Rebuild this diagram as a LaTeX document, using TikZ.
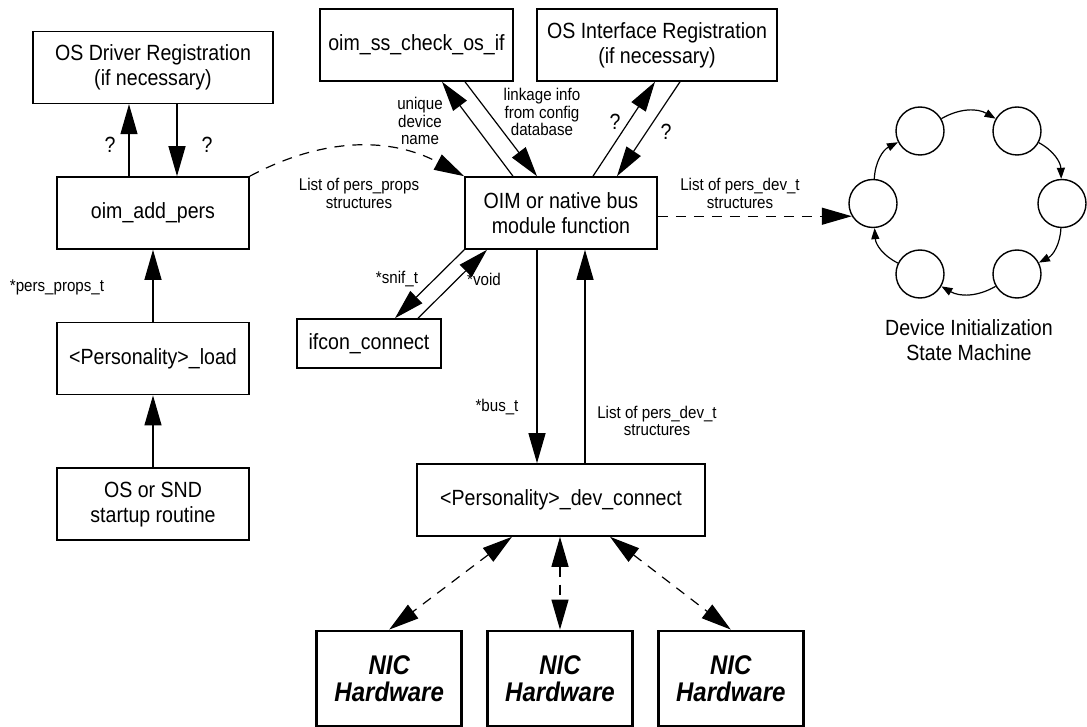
\documentclass[tikz,border=0pt]{standalone}
\usepackage{fontspec}
\setmainfont{Liberation Sans}[FakeStretch=0.89]
\usetikzlibrary{positioning,arrows.meta}

\begin{document}
\begin{tikzpicture}[
x=0.5pt,y=-0.5pt,
node distance=36pt,
box/.style={
    rectangle,
    draw,
    line width=0.8pt,
    minimum width=96pt,
    minimum height=36pt,
    inner sep=0pt,
    align=center,
    font=\fontsize{11}{12.5}\selectfont
},
nicbox/.style={
    box,
    line width=1.4pt,
    minimum width=72.5pt,
    minimum height=47.5pt,
    font=\fontsize{13.5}{13.5}\selectfont\bfseries\itshape
},
stnode/.style={circle,draw,line width=0.7pt,minimum size=24pt,inner sep=0pt},
lbl/.style={align=center,inner sep=0pt,font=\fontsize{8.5}{8.8}\selectfont},
qlbl/.style={align=center,inner sep=0pt,font=\fontsize{11}{12.5}\selectfont},
arrow/.style={-{Triangle[length=15pt,width=8.5pt]},line width=0.6pt},
dasharrow/.style={arrow,dash pattern=on 5pt off 4pt},
biarrow/.style={{Triangle[length=15pt,width=8.5pt]}-{Triangle[length=15pt,width=8.5pt]},line width=0.6pt,dash pattern=on 5pt off 4pt},
ringarrow/.style={-{Triangle[length=5.5pt,width=4pt]},line width=0.6pt}
]
\useasboundingbox (0,0) rectangle (1087,727);

\node[box] (addpers) at (153,213) {oim\_add\_pers};
\node[box,minimum width=120pt,above=of addpers] (drvreg) {OS Driver Registration\\(if necessary)};
\node[box,below=of addpers] (load) {<Personality>\_load};
\node[box,below=of load] (startup) {OS or SND\\startup routine};

\node[box,minimum width=96.5pt] (chkos) at (416.5,45) {oim\_ss\_check\_os\_if};
\node[box,minimum width=120pt] (osireg) at (657,45) {OS Interface Registration\\(if necessary)};
\node[box] (oim) at (561,213) {OIM or native bus\\module function};
\node[box,minimum width=72pt,minimum height=24.5pt] (ifcon) at (369,343.5) {ifcon\_connect};
\node[box,minimum width=144pt] (devconn) at (561,500) {<Personality>\_dev\_connect};

\node[nicbox] (nic2) at (560,678.5) {NIC\\Hardware};
\node[nicbox,left=11.5pt of nic2] (nic1) {NIC\\Hardware};
\node[nicbox,right=11.5pt of nic2] (nic3) {NIC\\Hardware};

\node[stnode] (s1) at (873,203.5) {};
\node[stnode] (s2) at (920,131) {};
\node[stnode] (s3) at (1017,131) {};
\node[stnode] (s4) at (1062,203.5) {};
\node[stnode] (s5) at (1017,274) {};
\node[stnode] (s6) at (920,274) {};

\node[qlbl] (q1) at (110,145) {?};
\node[qlbl] (q2) at (207,145) {?};
\node[qlbl] (q3) at (615,122) {?};
\node[qlbl] (q4) at (666,132) {?};
\node[lbl] (lprops) at (57,287) {*pers\_props\_t};
\node[lbl] (llist) at (359,193.5) {List of pers\_props\\structures};
\node[lbl] (luniq) at (420,121) {unique\\device\\name};
\node[lbl] (llink) at (542,112) {linkage info\\from config\\database};
\node[lbl] (lsnif) at (397,279) {*snif\_t};
\node[lbl] (lvoid) at (484,279) {*void};
\node[lbl] (lbus) at (497,407) {*bus\_t};
\node[lbl] (ldev) at (657,421) {List of pers\_dev\_t\\structures};
\node[lbl] (lstate) at (740,193.5) {List of pers\_dev\_t\\structures};
\node[qlbl] (lmach) at (969,340) {Device Initialization\\State Machine};

\draw[arrow] ([xshift=-12pt]addpers.north) -- ([xshift=-12pt]drvreg.south);
\draw[arrow] ([xshift=12pt]drvreg.south) -- ([xshift=12pt]addpers.north);
\draw[arrow] (load) -- (addpers);
\draw[arrow] (startup) -- (load);
\draw[dasharrow] (addpers.north east) to[bend left=28] (oim.north west);

\draw[arrow] ([xshift=-24pt]oim.north) -- ([xshift=12.75pt]chkos.south);
\draw[arrow] ([xshift=24.25pt]chkos.south) -- ([xshift=-12pt]oim.north);
\draw[arrow] ([xshift=16pt]oim.north) -- ([xshift=-1pt]osireg.south);
\draw[arrow] ([xshift=11.5pt]osireg.south) -- ([xshift=28pt]oim.north);
\draw[arrow] (oim.south west) -- ([xshift=13pt]ifcon.north);
\draw[arrow] ([xshift=24.5pt]ifcon.north) -- ([xshift=-37pt]oim.south);
\draw[arrow] ([xshift=-12pt]oim.south) -- ([xshift=-12pt]oim.south |- devconn.north);
\draw[arrow] ([xshift=12pt]devconn.north) -- ([xshift=12pt]devconn.north |- oim.south);

\draw[biarrow] ([xshift=-24.5pt]devconn.south) -- (nic1.north);
\draw[biarrow] (nic2.north |- devconn.south) -- (nic2.north);
\draw[biarrow] ([xshift=24.5pt]devconn.south) -- (nic3.north);

\draw[dasharrow] (oim.east |- s1.211) -- (s1.211);
\draw[ringarrow] (s1) to[bend left=30] (s2);
\draw[ringarrow] (s2) to[bend left=30] (s3);
\draw[ringarrow] (s3) to[bend left=30] (s4);
\draw[ringarrow] (s4) to[bend left=30] (s5);
\draw[ringarrow] (s5) to[bend left=30] (s6);
\draw[ringarrow] (s6) to[bend left=30] (s1);

\end{tikzpicture}
\end{document}
